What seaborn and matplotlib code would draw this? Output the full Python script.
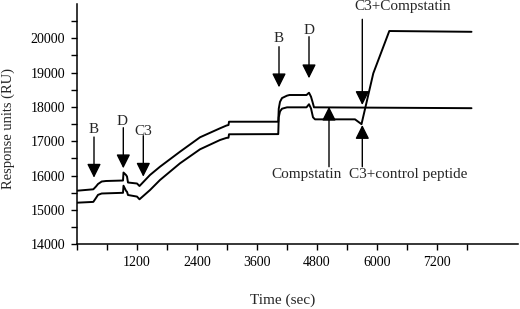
import numpy as np
import pandas as pd
import matplotlib
matplotlib.use("Agg")
import matplotlib.pyplot as plt
import seaborn as sns

# ---- data ----
upper_t = [0, 326, 380, 420, 494, 580, 920, 930, 980, 1000, 1020, 1200, 1250,
           1460, 1660, 2060, 2460, 2860, 2990, 3030, 3040, 4025, 4035, 4060,
           4100, 4200, 4250, 4590, 4640, 4680, 4710, 4740, 7890]
upper_ru = [15561, 15602, 15684, 15756, 15829, 15844, 15858, 16091, 16019, 15975,
            15800, 15771, 15698, 16019, 16260, 16697, 17117, 17379, 17460, 17475,
            17571, 17571, 17950, 18150, 18260, 18330, 18349, 18349, 18415, 18300,
            18150, 17990, 17965]

lower_t = [0, 326, 380, 420, 494, 920, 930, 980, 1000, 1020, 1200, 1250,
           1460, 1660, 2060, 2460, 2860, 2990, 3030, 3040, 4025, 4035, 4060,
           4100, 4200, 4590, 4640, 4680, 4720, 4760, 5560, 5690, 5926, 6246, 7890]
lower_ru = [15212, 15235, 15350, 15440, 15480, 15500, 15707, 15560, 15530, 15436,
            15390, 15311, 15580, 15873, 16359, 16767, 17038, 17100, 17105, 17205,
            17210, 17700, 17870, 17950, 17990, 17990, 18080, 17960, 17700, 17640,
            17640, 17500, 18981, 20213, 20190]

x_tick_values = list(range(0, 7801, 600))
x_tick_labels = ["1200", "2400", "3600", "4800", "6000", "7200"]
y_tick_values = [14000, 15000, 16000, 17000, 18000, 19000, 20000]
y_minor_values = [14500, 15500, 16500, 17500, 18500, 19500, 20500]

# annotations: (label, x, y_start, y_tip, label_x, label_y)
down_arrows = [
    ("B", 340, 17125, 15940, 340, 17330),
    ("D", 926, 17396, 16214, 900, 17590),
    ("C3", 1326, 17163, 15969, 1326, 17280),
    ("B", 4040, 19756, 18573, 4040, 19990),
    ("D", 4640, 20047, 18836, 4640, 20242),
    ("C3+Compstatin", 5706, 20554, 18058, 6510, 20922),
]
up_arrows = [
    ("Compstatin", 5040, 16260, 18008, 4600, 16020),
    ("C3+control peptide", 5706, 16260, 17475, 6620, 16020),
]

# ---- figure ----
sns.set_style("ticks")
plt.rcParams["font.family"] = ["Liberation Serif", "DejaVu Serif"]

fig = plt.figure(figsize=(5.2, 3.09), dpi=100)
ax = fig.add_axes([77 / 520, 1 - 244.3 / 309, 441 / 520, 240.3 / 309])

df = pd.concat([
    pd.DataFrame({"t": upper_t, "ru": upper_ru, "s": "upper"}),
    pd.DataFrame({"t": lower_t, "ru": lower_ru, "s": "lower"}),
])
sns.lineplot(data=df, x="t", y="ru", hue="s", units="s", estimator=None,
             sort=False, palette=["black", "black"], linewidth=1.4,
             legend=False, ax=ax)

ax.set_xlim(0, 8820)
ax.set_ylim(14000, 21000)

ax.set_xticks(x_tick_values)
xl = []
for v in x_tick_values:
    xl.append(str(v) if str(v) in x_tick_labels else "")
ax.set_xticklabels(xl)
ax.set_yticks(y_tick_values)
ax.set_yticklabels([str(v) for v in y_tick_values])
ax.set_yticks(y_minor_values, minor=True)

ax.tick_params(axis="both", which="both", direction="out", length=4.5,
               width=1.0, color="black", labelsize=10, labelcolor="black")
ax.tick_params(axis="x", pad=4)
ax.tick_params(axis="y", pad=4)

for side in ["top", "right"]:
    ax.spines[side].set_visible(False)
for side in ["left", "bottom"]:
    ax.spines[side].set_linewidth(1.1)
    ax.spines[side].set_color("black")

ax.set_xlabel("Time (sec)", fontsize=11)
ax.set_ylabel("Response units (RU)", fontsize=10.5)
ax.xaxis.set_label_coords(0.467, -0.205)
ax.yaxis.set_label_coords(-0.14, 0.482)

arrow_kw = dict(arrowstyle="-|>,head_length=0.6,head_width=0.3",
                color="black", lw=1.0, shrinkA=0, shrinkB=0,
                mutation_scale=14)
for lab, x, y0, y1, lx, ly in down_arrows + up_arrows:
    ax.annotate("", xy=(x, y1), xytext=(x, y0), arrowprops=arrow_kw,
                annotation_clip=False)
    ax.text(lx, ly, lab, ha="center", va="center", fontsize=11,
            clip_on=False)

fig.savefig("out.png", dpi=100)
